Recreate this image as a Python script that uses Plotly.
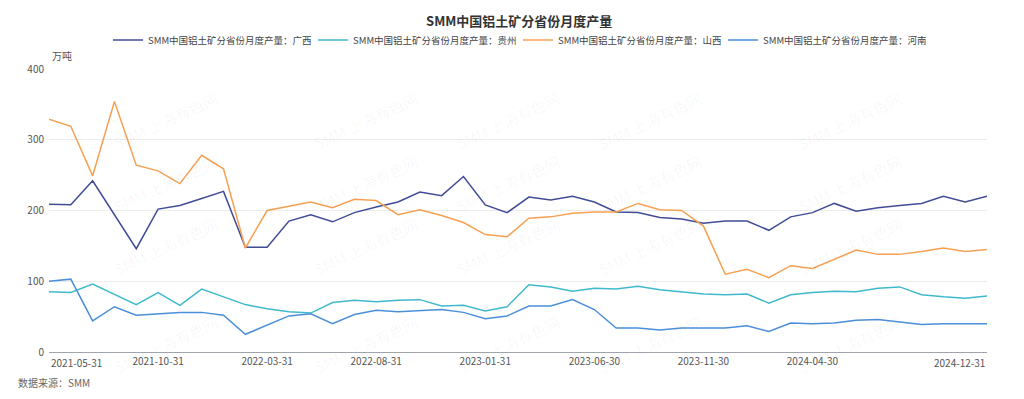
import plotly.graph_objects as go
import pandas as pd

dates = [d.strftime("%Y-%m-%d") for d in pd.date_range("2021-05-31", "2024-12-31", freq="ME")]

guangxi = [209, 208, 242, 194, 146, 202, 207, 217, 227, 148, 148, 185, 194, 184, 197,
           205, 212, 226, 221, 248, 208, 197, 219, 215, 220, 212, 198, 197, 190, 188,
           182, 185, 185, 172, 191, 197, 210, 199, 204, 207, 210, 220, 212, 220]
guizhou = [85, 84, 96, 82, 67, 84, 66, 89, 78, 67, 61, 57, 55, 70, 73,
           71, 73, 74, 65, 66, 58, 64, 95, 92, 86, 90, 89, 93, 88, 85,
           82, 81, 82, 69, 81, 84, 86, 85, 90, 92, 81, 78, 76, 79]
shanxi = [329, 319, 249, 354, 264, 256, 238, 278, 259, 147, 200, 206, 212, 204, 216,
          214, 194, 201, 193, 183, 166, 163, 189, 191, 196, 198, 198, 210, 201, 200,
          178, 110, 117, 105, 122, 118, 131, 144, 138, 138, 142, 147, 142, 145]
henan = [100, 103, 44, 64, 52, 54, 56, 56, 52, 25, 38, 51, 54, 40, 53,
         59, 57, 59, 60, 56, 47, 51, 65, 65, 74, 60, 34, 34, 31, 34,
         34, 34, 37, 29, 41, 40, 41, 45, 46, 43, 39, 40, 40, 40]

series = [
    ("SMM中国铝土矿分省份月度产量：广西", guangxi, "#404c96"),
    ("SMM中国铝土矿分省份月度产量：贵州", guizhou, "#41b9cc"),
    ("SMM中国铝土矿分省份月度产量：山西", shanxi, "#f6a053"),
    ("SMM中国铝土矿分省份月度产量：河南", henan, "#4b8fd9"),
]

tick_labels = ["2021-05-31", "2021-10-31", "2022-03-31", "2022-08-31", "2023-01-31",
               "2023-06-30", "2023-11-30", "2024-04-30", "2024-12-31"]

FONT = "Noto Sans CJK SC, Noto Sans, sans-serif"

fig = go.Figure()
for name, vals, color in series:
    fig.add_trace(go.Scatter(x=dates, y=vals, mode="lines", name=name,
                             line=dict(color=color, width=1.5),
                             hovertemplate="%{x}<br>%{y}<extra></extra>"))

L, R, T, B = 49, 37, 69, 47
pw, ph = 1024 - L - R, 399 - T - B

def px(x):
    return (x - L) / pw

def py(y):
    return (399 - y - B) / ph

annotations = []
# watermarks
for ry in [85, 183, 282, 380]:
    for cx in [108, 308, 508, 708, 908]:
        annotations.append(dict(text="SMM 上海有色网", x=px(cx), y=py(ry), xref="paper", yref="paper",
                                showarrow=False, textangle=-25,
                                font=dict(size=15, color="rgba(0,0,0,0.04)", family=FONT)))

annotations.append(dict(text="万吨", x=px(50), y=py(55), xref="paper", yref="paper",
                        xanchor="left", yanchor="middle", showarrow=False,
                        font=dict(size=10, color="#555", family=FONT)))
annotations.append(dict(text="数据来源：SMM", x=px(16), y=py(382), xref="paper", yref="paper",
                        xanchor="left", yanchor="middle", showarrow=False,
                        font=dict(size=10, color="#666", family=FONT)))
# first and last x tick labels, kept inside the plot edges
annotations.append(dict(text=tick_labels[0], x=tick_labels[0], xref="x", y=py(362), yref="paper",
                        xanchor="left", yanchor="middle", showarrow=False,
                        font=dict(size=10, color="#555", family=FONT)))
annotations.append(dict(text=tick_labels[-1], x=tick_labels[-1], xref="x", y=py(362), yref="paper",
                        xanchor="right", yanchor="middle", showarrow=False,
                        font=dict(size=10, color="#555", family=FONT)))

fig.update_layout(
    width=1024, height=399,
    margin=dict(l=L, r=R, t=T, b=B, autoexpand=False),
    paper_bgcolor="white", plot_bgcolor="white",
    title=dict(text="<b>SMM中国铝土矿分省份月度产量</b>", x=0.507, xanchor="center",
               y=1 - 21 / 399, yanchor="middle", font=dict(size=13, color="#333", family=FONT)),
    legend=dict(orientation="h", x=0.5, xanchor="center", y=1 + (69 - 40) / ph, yanchor="middle",
                font=dict(size=9.5, color="#444", family=FONT), itemwidth=30,
                entrywidth=160, entrywidthmode="pixels", bgcolor="rgba(0,0,0,0)"),
    showlegend=True,
    annotations=annotations,
    hovermode="x unified",
)

fig.update_xaxes(type="category", range=[0, len(dates) - 1], tickmode="array",
                 tickvals=tick_labels[1:-1], ticktext=tick_labels[1:-1], showgrid=False,
                 showline=True, linecolor="#a0a4ab", linewidth=1, ticks="",
                 tickfont=dict(size=10, color="#555", family=FONT), zeroline=False,
                 automargin=False)
fig.update_yaxes(range=[0, 400], tickvals=[0, 100, 200, 300, 400], showgrid=True,
                 gridcolor="#ececec", gridwidth=1, zeroline=False, showline=False,
                 tickfont=dict(size=10, color="#555", family=FONT), ticklabelstandoff=4,
                 automargin=False)

fig.write_html("out.html", config={"displayModeBar": False},
               post_script="document.body.style.margin='0';document.body.style.overflow='hidden';")
